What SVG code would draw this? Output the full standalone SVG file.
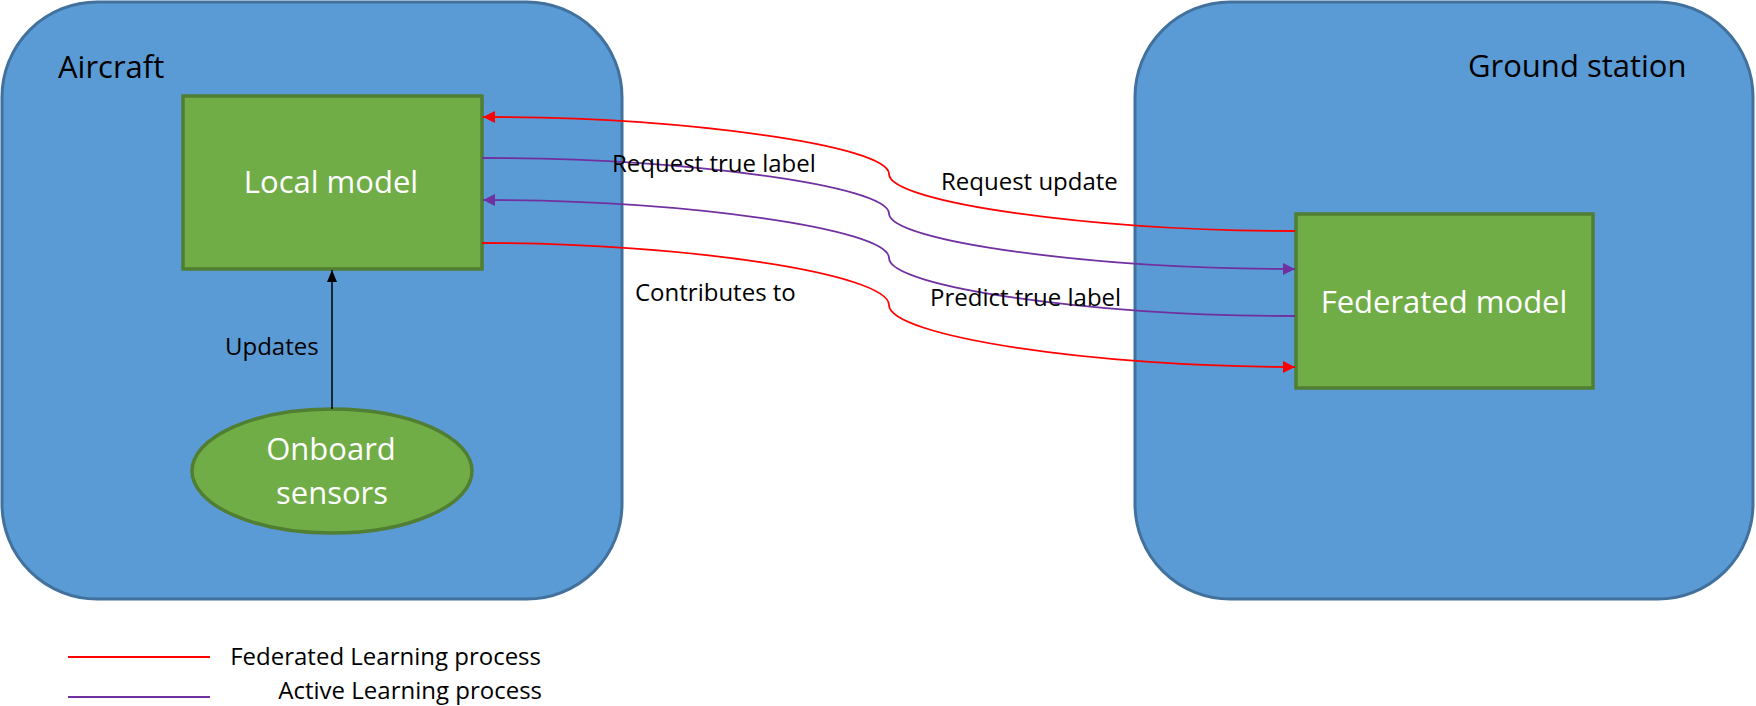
<svg xmlns="http://www.w3.org/2000/svg" width="1756" height="706" viewBox="0 0 1756 706">
  <style>
    .container { fill: #5B9BD5; stroke: #41719C; stroke-width: 3; }
    .node { fill: #70AD47; stroke: #507E32; stroke-width: 3.5; }
    .title { font-family: "Open Sans", "Liberation Sans", sans-serif; font-size: 31px; fill: #000000; }
    .nodetext { font-family: "Open Sans", "Liberation Sans", sans-serif; font-size: 31px; fill: #FFFFFF; text-anchor: middle; }
    .label { font-family: "Open Sans", "Liberation Sans", sans-serif; font-size: 24px; fill: #000000; }
    .fl { fill: none; stroke: #FF0000; stroke-width: 1.8; }
    .al { fill: none; stroke: #7030A0; stroke-width: 1.8; }
    .upd { fill: none; stroke: #000000; stroke-width: 1.5; }
  </style>
  <defs>
    <marker id="arrRed" markerUnits="userSpaceOnUse" markerWidth="12" markerHeight="12" refX="12" refY="6" orient="auto">
      <path d="M0,0 L12,6 L0,12 z" fill="#FF0000"/>
    </marker>
    <marker id="arrPurple" markerUnits="userSpaceOnUse" markerWidth="12" markerHeight="12" refX="12" refY="6" orient="auto">
      <path d="M0,0 L12,6 L0,12 z" fill="#7030A0"/>
    </marker>
    <marker id="arrBlack" markerUnits="userSpaceOnUse" markerWidth="10" markerHeight="12" refX="12" refY="5" orient="auto">
      <path d="M0,0 L12,5 L0,10 z" fill="#000000"/>
    </marker>
  </defs>

  <g id="aircraft">
    <rect class="container" x="2" y="2" width="620" height="597" rx="95" ry="95"/>
    <text class="title" x="58" y="78">Aircraft</text>
  </g>

  <g id="ground-station">
    <rect class="container" x="1135" y="2" width="618" height="597" rx="95" ry="95"/>
    <text class="title" x="1468" y="77">Ground station</text>
  </g>

  <g id="local-model">
    <rect class="node" x="183" y="96" width="299" height="173"/>
    <text class="nodetext" x="331" y="193">Local model</text>
  </g>

  <g id="federated-model">
    <rect class="node" x="1296" y="214" width="297" height="174"/>
    <text class="nodetext" x="1444" y="313">Federated model</text>
  </g>

  <g id="onboard-sensors">
    <ellipse class="node" cx="332" cy="471" rx="140" ry="62"/>
    <text class="nodetext" x="331" y="460">Onboard</text>
    <text class="nodetext" x="332" y="504">sensors</text>
  </g>

  <g id="connectors">
    <path class="upd" d="M332,409 L332,270" marker-end="url(#arrBlack)"/>
    <text class="label" x="225" y="355">Updates</text>

    <path class="fl" d="M1295,231 C1092,231 889,202.5 889,174 C889,145.5 686,117 483,117" marker-end="url(#arrRed)"/>
    <text class="label" x="941" y="190">Request update</text>

    <path class="al" d="M482,158 C685.5,158 889,185.75 889,213.5 C889,241.25 1092,269 1295,269" marker-end="url(#arrPurple)"/>
    <text class="label" x="612" y="172">Request true label</text>

    <path class="al" d="M1295,316 C1092,316 889,287 889,258 C889,229 686,200 483,200" marker-end="url(#arrPurple)"/>
    <text class="label" x="930" y="306">Predict true label</text>

    <path class="fl" d="M482,243 C685.5,243 889,274 889,305 C889,336 1092,367 1295,367" marker-end="url(#arrRed)"/>
    <text class="label" x="635" y="301">Contributes to</text>
  </g>

  <g id="legend">
    <line x1="68" y1="657" x2="210" y2="657" stroke="#FF0000" stroke-width="2"/>
    <text class="label" x="541" y="665" text-anchor="end">Federated Learning process</text>
    <line x1="68" y1="697" x2="210" y2="697" stroke="#7030A0" stroke-width="2"/>
    <text class="label" x="542" y="699" text-anchor="end">Active Learning process</text>
  </g>
</svg>
